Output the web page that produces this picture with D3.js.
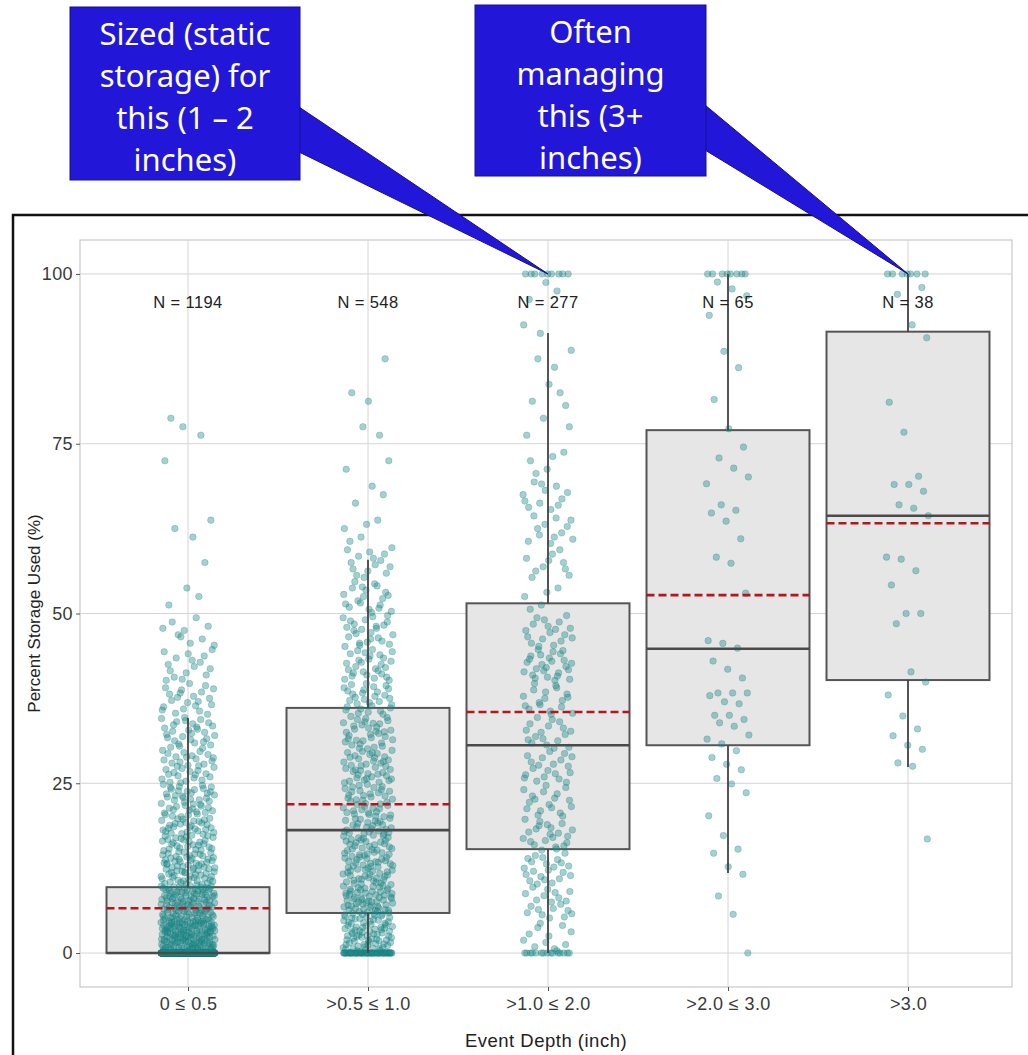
<!DOCTYPE html>
<html>
<head>
<meta charset="utf-8">
<script src="https://cdn.jsdelivr.net/npm/d3@7"></script>
<style>
  body { margin: 0; background: #fff; }
  svg { display: block; }
</style>
</head>
<body>
<div id="chart"></div>
<script>
// categories and box statistics
var categories = ["0 \u2264 0.5", ">0.5 \u2264 1.0", ">1.0 \u2264 2.0", ">2.0 \u2264 3.0", ">3.0"];
var counts = [1194, 548, 277, 65, 38];
var q1 = [0, 5.9, 15.3, 30.6, 40.2];
var medians = [0, 18.1, 30.6, 44.8, 64.4];
var q3 = [9.7, 36.1, 51.5, 77.0, 91.5];
var whiskerLow = [0, 0, 0, 11.8, 27.4];
var whiskerHigh = [34.6, 57.9, 91.3, 100, 100];
var means = [6.6, 21.9, 35.5, 52.7, 63.3];
var yTicks = [0, 25, 50, 75, 100];

// dense groups: points exactly at 0, then counts per 5% bin (0-5 ... 95-100), then exactly 100
var zeroCounts = [620, 55, 15];
var binCounts = [
  [170, 110, 70, 55, 45, 35, 30, 22, 16, 10, 3, 1, 3, 0, 1, 3, 0, 0, 0, 0],
  [70, 70, 55, 50, 40, 40, 35, 30, 28, 25, 20, 15, 5, 3, 2, 2, 2, 1, 0, 0],
  [12, 20, 22, 22, 18, 20, 18, 18, 26, 18, 5, 10, 12, 12, 5, 3, 4, 3, 2, 3]
];
var fullCounts = [0, 0, 9];

// sparse groups: individual points
var points4 = [100, 100, 100, 100, 100, 100, 100, 100, 98.8, 97.8, 96.8, 93.9, 88.6, 86.2, 81.5, 77.2,
  74.5, 72.9, 71.4, 70.1, 69.1, 66, 65.2, 64.8, 63.6, 61, 58.3, 57.4, 53, 46, 45.6, 44.9, 43,
  41.8, 40.5, 38.3, 38.3, 38.3, 37.9, 37, 36.7, 35, 35, 34.4, 33.9, 33.4, 32.1, 31.5, 30.8, 29.8,
  28.8, 27.8, 27, 25.7, 24.9, 23.6, 20.2, 17.3, 15.3, 14.7, 12.7, 11.6, 8.4, 5.7, 0];
var points5 = [100, 100, 100, 100, 100, 100, 100, 98, 97, 92.5, 90.6, 81.1, 76.7, 70.2, 69, 69, 68, 66,
  65.5, 64.4, 58.3, 58, 56.3, 54.2, 50, 50, 48.5, 41.4, 39.9, 38, 34.9, 33, 32, 30.6, 30, 28, 27.5, 16.8];

var callouts = [
  {lines: ["Sized (static", "storage) for", "this (1 \u2013 2", "inches)"], cat: 2},
  {lines: ["Often", "managing", "this (3+", "inches)"], cat: 4}
];

var width = 1028, height = 1055;
var panel = {left: 80, top: 240, right: 1012, bottom: 987};
var axisFont = "'Liberation Sans', Arial, sans-serif";

var svg = d3.select("#chart").append("svg")
    .attr("width", width)
    .attr("height", height)
    .style("font-family", axisFont);

var x = d3.scalePoint()
    .domain(categories)
    .range([188, 908]);

var y = d3.scaleLinear()
    .domain([-5, 105])
    .range([panel.bottom, panel.top]);

// outer black frame
svg.append("rect")
    .attr("x", 13).attr("y", 215)
    .attr("width", 1040).attr("height", 900)
    .attr("fill", "none")
    .attr("stroke", "#111")
    .attr("stroke-width", 2.5);

// panel + grid
var plot = svg.append("g");
plot.append("rect")
    .attr("x", panel.left).attr("y", panel.top)
    .attr("width", panel.right - panel.left)
    .attr("height", panel.bottom - panel.top)
    .attr("fill", "#fff")
    .attr("stroke", "#bdbdbd")
    .attr("stroke-width", 1);

plot.selectAll(".hgrid").data(yTicks).enter().append("line")
    .attr("x1", panel.left).attr("x2", panel.right)
    .attr("y1", function(d){ return y(d); })
    .attr("y2", function(d){ return y(d); })
    .attr("stroke", "#d4d4d4").attr("stroke-width", 1);

plot.selectAll(".vgrid").data(categories).enter().append("line")
    .attr("x1", function(d){ return x(d); })
    .attr("x2", function(d){ return x(d); })
    .attr("y1", panel.top).attr("y2", panel.bottom)
    .attr("stroke", "#d4d4d4").attr("stroke-width", 1);

// boxes
var boxW = 163;
var stats = categories.map(function(c, i){
    return {cat: c, q1: q1[i], med: medians[i], q3: q3[i], lo: whiskerLow[i], hi: whiskerHigh[i], mean: means[i], n: counts[i]};
});

plot.selectAll(".box").data(stats).enter().append("rect")
    .attr("x", function(d){ return x(d.cat) - boxW / 2; })
    .attr("y", function(d){ return y(d.q3); })
    .attr("width", boxW)
    .attr("height", function(d){ return y(d.q1) - y(d.q3); })
    .attr("fill", "#e6e6e6")
    .attr("stroke", "#555")
    .attr("stroke-width", 2);

// jittered points (deterministic spread, halton sequences)
function halton(i, base){
    var f = 1, r = 0;
    while (i > 0) { f = f / base; r += f * (i % base); i = Math.floor(i / base); }
    return r;
}
var pts = [];
function pushPoint(g, v){ pts.push({g: g, v: v, k: pts.filter(function(p){ return p.g === g; }).length}); }
zeroCounts.forEach(function(z, g){
    var k;
    for (k = 0; k < z; k++) pushPoint(g, 0);
    binCounts[g].forEach(function(c, b){
        for (var j = 0; j < c; j++) pushPoint(g, b * 5 + halton(j + 1, 2) * 5);
    });
    for (k = 0; k < fullCounts[g]; k++) pushPoint(g, 100);
});
points4.forEach(function(v){ pushPoint(3, v); });
points5.forEach(function(v){ pushPoint(4, v); });

var jitterW = [27, 25, 25, 22, 22];
plot.append("g").selectAll("circle").data(pts).enter().append("circle")
    .attr("cx", function(d){
        return x(categories[d.g]) + (halton(d.k + 7, 3) - 0.5) * 2 * jitterW[d.g];
    })
    .attr("cy", function(d){ return y(d.v); })
    .attr("r", 3.3)
    .attr("fill", "#168c8c")
    .attr("fill-opacity", 0.4)
    .attr("stroke", "#2b6f6f")
    .attr("stroke-opacity", 0.28)
    .attr("stroke-width", 0.8);

// whiskers
plot.selectAll(".wup").data(stats).enter().append("line")
    .attr("x1", function(d){ return x(d.cat); })
    .attr("x2", function(d){ return x(d.cat); })
    .attr("y1", function(d){ return y(d.q3); })
    .attr("y2", function(d){ return y(d.hi); })
    .attr("stroke", "#444").attr("stroke-width", 1.8);
plot.selectAll(".wlo").data(stats).enter().append("line")
    .attr("x1", function(d){ return x(d.cat); })
    .attr("x2", function(d){ return x(d.cat); })
    .attr("y1", function(d){ return y(d.q1); })
    .attr("y2", function(d){ return y(d.lo); })
    .attr("stroke", "#444").attr("stroke-width", 1.8);

// medians
plot.selectAll(".med").data(stats).enter().append("line")
    .attr("x1", function(d){ return x(d.cat) - boxW / 2; })
    .attr("x2", function(d){ return x(d.cat) + boxW / 2; })
    .attr("y1", function(d){ return y(d.med); })
    .attr("y2", function(d){ return y(d.med); })
    .attr("stroke", "#4a4a4a").attr("stroke-width", 2.6);

// means (dashed red)
plot.selectAll(".mean").data(stats).enter().append("line")
    .attr("x1", function(d){ return x(d.cat) - boxW / 2; })
    .attr("x2", function(d){ return x(d.cat) + boxW / 2; })
    .attr("y1", function(d){ return y(d.mean); })
    .attr("y2", function(d){ return y(d.mean); })
    .attr("stroke", "#b3161b").attr("stroke-width", 2.6)
    .attr("stroke-dasharray", "8,4");

// N labels
plot.selectAll(".nlab").data(stats).enter().append("text")
    .attr("x", function(d){ return x(d.cat); })
    .attr("y", y(100) + 34)
    .attr("text-anchor", "middle")
    .attr("font-size", 16.5)
    .attr("letter-spacing", 0.4)
    .attr("fill", "#222")
    .text(function(d){ return "N = " + d.n; });

// axes
var yAxis = svg.append("g")
    .attr("transform", "translate(" + panel.left + ",0)")
    .call(d3.axisLeft(y).tickValues(yTicks).tickSize(4).tickPadding(3));
var xAxis = svg.append("g")
    .attr("transform", "translate(0," + panel.bottom + ")")
    .call(d3.axisBottom(x).tickSize(4).tickPadding(6));
[yAxis, xAxis].forEach(function(a){
    a.select(".domain").remove();
    a.selectAll(".tick line").attr("stroke", "#555");
    a.selectAll(".tick text")
        .attr("fill", "#3a3a3a")
        .attr("font-size", 18)
        .attr("letter-spacing", 0.4)
        .attr("font-family", axisFont);
});

svg.append("text")
    .attr("x", (panel.left + panel.right) / 2)
    .attr("y", 1047)
    .attr("text-anchor", "middle")
    .attr("font-size", 18.5)
    .attr("letter-spacing", 0.5)
    .attr("fill", "#222")
    .text("Event Depth (inch)");

svg.append("text")
    .attr("transform", "translate(40," + (panel.top + panel.bottom) / 2 + ") rotate(-90)")
    .attr("text-anchor", "middle")
    .attr("font-size", 17)
    .attr("fill", "#222")
    .text("Percent Storage Used (%)");

// callouts
var boxes = [{x: 70, y: 7, w: 230, h: 173}, {x: 475, y: 5, w: 231, h: 171}];
callouts.forEach(function(c, i){
    var b = boxes[i];
    var g = svg.append("g");
    var tipX = x(categories[c.cat]), tipY = y(100);
    g.append("polygon")
        .attr("points", [[b.x + b.w - 1, b.y + 100], [tipX, tipY], [b.x + b.w - 1, b.y + 145]].join(" "))
        .attr("fill", "#2216d9")
        .attr("stroke", "#14108a")
        .attr("stroke-width", 1);
    g.append("rect")
        .attr("x", b.x).attr("y", b.y)
        .attr("width", b.w).attr("height", b.h)
        .attr("fill", "#2216d9")
        .attr("stroke", "#14108a")
        .attr("stroke-width", 1);
    g.selectAll("text").data(c.lines).enter().append("text")
        .attr("x", b.x + b.w / 2)
        .attr("y", function(d, k){ return b.y + 38 + k * 42; })
        .attr("text-anchor", "middle")
        .attr("font-family", "'Noto Sans', sans-serif")
        .attr("font-size", 31)
        .attr("fill", "#fff")
        .text(function(d){ return d; });
});
</script>
</body>
</html>
